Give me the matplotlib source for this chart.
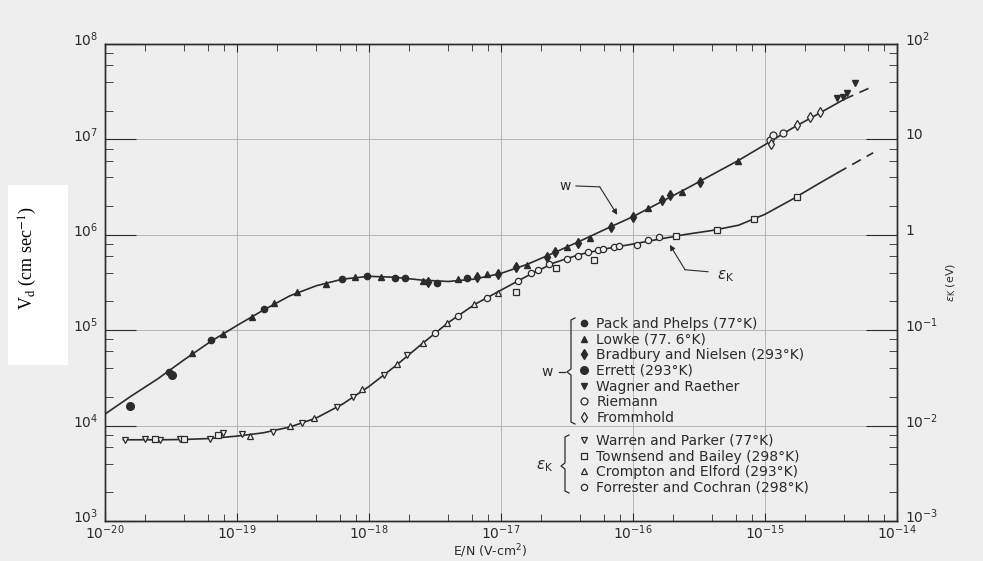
import numpy as np
import matplotlib
matplotlib.use("Agg")
import matplotlib.pyplot as plt
import matplotlib.transforms as mtransforms
from matplotlib.ticker import LogLocator, NullFormatter, FixedLocator, FixedFormatter
from matplotlib.patches import Rectangle

# ---- data ----
# drift velocity w (cm/s) vs E/N (V cm^2)
pack_en = [3.05e-20, 6.35e-20, 1.6e-19, 6.3e-19, 9.7e-19, 1.58e-18, 1.86e-18, 3.27e-18, 5.5e-18]
pack_w = [3.67e4, 7.8e4, 1.68e5, 3.47e5, 3.72e5, 3.55e5, 3.55e5, 3.14e5, 3.55e5]

lowke_en = [4.57e-20, 7.8e-20, 1.3e-19, 1.9e-19, 2.85e-19, 4.7e-19, 7.8e-19, 1.23e-18, 2.57e-18,
            4.7e-18, 7.9e-18, 1.58e-17, 3.16e-17, 4.7e-17, 1.3e-16, 2.34e-16, 6.3e-16]
lowke_w = [5.7e4, 9.2e4, 1.38e5, 1.95e5, 2.5e5, 3.07e5, 3.63e5, 3.63e5, 3.31e5,
           3.47e5, 3.9e5, 4.85e5, 7.4e5, 9.3e5, 1.9e6, 2.8e6, 5.96e6]

bradbury_en = [2.8e-18, 6.6e-18, 9.5e-18, 1.29e-17, 2.24e-17, 2.57e-17, 3.8e-17, 6.8e-17,
               1.0e-16, 1.66e-16, 1.9e-16, 3.24e-16]
bradbury_w = [3.22e5, 3.63e5, 3.9e5, 4.62e5, 5.9e5, 6.6e5, 8.3e5, 1.2e6,
              1.55e6, 2.3e6, 2.63e6, 3.6e6]

errett_en = [1.55e-20, 3.2e-20]
errett_w = [1.62e4, 3.42e4]

wagner_en = [3.5e-15, 3.9e-15, 4.2e-15, 4.8e-15]
wagner_w = [2.72e7, 2.8e7, 3.1e7, 3.9e7]

riemann_en = [1.1e-15, 1.15e-15, 1.38e-15]
riemann_w = [9.9e6, 1.1e7, 1.17e7]

frommhold_en = [1.12e-15, 1.74e-15, 2.2e-15, 2.63e-15]
frommhold_w = [8.9e6, 1.41e7, 1.72e7, 1.95e7]

# characteristic energy eps_K (eV) vs E/N
warren_en = [1.41e-20, 2.0e-20, 2.63e-20, 3.72e-20, 6.3e-20, 7.9e-20, 1.1e-19, 1.86e-19,
             3.1e-19, 5.75e-19, 7.6e-19, 1.29e-18, 1.95e-18]
warren_ek = [7.1e-3, 7.3e-3, 7.1e-3, 7.3e-3, 7.3e-3, 8.45e-3, 8.24e-3, 8.65e-3,
             1.07e-2, 1.58e-2, 2.0e-2, 3.39e-2, 5.5e-2]

townsend_en = [2.4e-20, 4.0e-20, 7.2e-20, 1.29e-17, 2.6e-17, 5.1e-17, 2.1e-16, 4.3e-16,
               8.3e-16, 1.74e-15]
townsend_ek = [7.2e-3, 7.2e-3, 8.0e-3, 0.25, 0.447, 0.55, 0.977, 1.12, 1.48, 2.51]

crompton_en = [1.26e-19, 2.5e-19, 3.8e-19, 8.9e-19, 1.62e-18, 2.57e-18, 3.9e-18, 6.2e-18, 9.5e-18]
crompton_ek = [7.85e-3, 9.8e-3, 1.2e-2, 2.4e-2, 4.37e-2, 7.4e-2, 0.12, 0.19, 0.245]

forrester_en = [3.16e-18, 4.7e-18, 7.8e-18, 1.35e-17, 1.7e-17, 1.9e-17, 2.3e-17, 3.16e-17,
                3.8e-17, 4.6e-17, 5.4e-17, 5.9e-17, 7.2e-17, 7.9e-17, 1.07e-16, 1.29e-16, 1.58e-16]
forrester_ek = [0.093, 0.141, 0.219, 0.324, 0.398, 0.427, 0.49, 0.56,
                0.60, 0.66, 0.69, 0.71, 0.74, 0.77, 0.785, 0.89, 0.955]

# smooth curves drawn through the data
w_curve_en = [1e-20, 1.58e-20, 2.51e-20, 3.98e-20, 6.31e-20, 1e-19, 1.58e-19, 2.51e-19, 3.98e-19,
              6.31e-19, 1e-18, 1.58e-18, 2.51e-18, 3.98e-18, 6.31e-18, 1e-17, 1.58e-17, 2.51e-17,
              3.98e-17, 6.31e-17, 1e-16, 1.58e-16, 2.51e-16, 3.98e-16, 6.31e-16, 1e-15, 1.58e-15,
              2.51e-15, 3.98e-15]
w_curve = [1.32e4, 2.04e4, 3.09e4, 4.9e4, 7.6e4, 1.12e5, 1.62e5, 2.29e5, 2.92e5,
           3.43e5, 3.67e5, 3.59e5, 3.35e5, 3.24e5, 3.43e5, 3.94e5, 4.9e5, 6.46e5,
           8.6e5, 1.16e6, 1.55e6, 2.16e6, 3.02e6, 4.27e6, 6.03e6, 8.8e6, 1.29e7,
           1.84e7, 2.63e7]
w_dash_en = [3.98e-15, 6.6e-15]
w_dash = [2.63e7, 3.6e7]

ek_curve_en = [1.38e-20, 2.51e-20, 3.98e-20, 6.31e-20, 1e-19, 1.58e-19, 2.51e-19, 3.98e-19,
               6.31e-19, 1e-18, 1.58e-18, 2.51e-18, 3.98e-18, 6.31e-18, 1e-17, 1.58e-17,
               2.51e-17, 3.98e-17, 6.31e-17, 1e-16, 1.58e-16, 2.51e-16, 3.98e-16, 6.31e-16,
               1e-15, 1.58e-15, 2.51e-15, 3.55e-15]
ek_curve = [7.1e-3, 7.1e-3, 7.15e-3, 7.33e-3, 7.76e-3, 8.4e-3, 9.66e-3, 1.2e-2,
            1.68e-2, 2.57e-2, 4.2e-2, 7.16e-2, 0.12, 0.186, 0.263, 0.37,
            0.507, 0.624, 0.716, 0.80, 0.90, 1.01, 1.11, 1.26,
            1.64, 2.32, 3.39, 4.47]
ek_dash_en = [3.55e-15, 6.6e-15]
ek_dash = [4.47, 7.24]

x_ticks = [1e-20, 1e-19, 1e-18, 1e-17, 1e-16, 1e-15, 1e-14]
x_labels = ['$10^{-20}$', '$10^{-19}$', '$10^{-18}$', '$10^{-17}$', '$10^{-16}$', '$10^{-15}$',
            '$10^{-14}$']
left_ticks = [1e3, 1e4, 1e5, 1e6, 1e7, 1e8]
left_labels = ['$10^{3}$', '$10^{4}$', '$10^{5}$', '$10^{6}$', '$10^{7}$', '$10^{8}$']
right_ticks = [1e-3, 1e-2, 1e-1, 1, 10, 100]
right_labels = ['$10^{-3}$', '$10^{-2}$', '$10^{-1}$', '1', '10', '$10^{2}$']

# ---- figure ----
ink = '#2b2b2b'
bg = '#eeeeee'
fig = plt.figure(figsize=(9.83, 5.61), dpi=100, facecolor=bg)
ax = fig.add_axes([0.1068, 0.0713, 0.8057, 0.8503], facecolor=bg)
ax2 = ax.twinx()

ax.set_xscale('log')
ax.set_yscale('log')
ax2.set_yscale('log')
ax.set_xlim(1e-20, 1e-14)
ax.set_ylim(1e3, 1e8)
ax2.set_ylim(1e-3, 1e2)

ax.grid(True, which='major', color='#b5b5b5', lw=0.7)

ax.plot(w_curve_en, w_curve, color=ink, lw=1.2, zorder=2)
ax.plot(w_dash_en, w_dash, color=ink, lw=1.2, ls=(0, (6, 4)), zorder=2)
ax2.plot(ek_curve_en, ek_curve, color=ink, lw=1.2, zorder=2)
ax2.plot(ek_dash_en, ek_dash, color=ink, lw=1.2, ls=(0, (6, 4)), zorder=2)

filled = dict(ls='none', color=ink, mec=ink, zorder=3)
hollow = dict(ls='none', mfc=bg, mec=ink, mew=0.9, zorder=3)

h = []
h += ax.plot(pack_en, pack_w, 'o', ms=4.5, label='Pack and Phelps (77°K)', **filled)
h += ax.plot(lowke_en, lowke_w, '^', ms=4.5, label='Lowke (77. 6°K)', **filled)
h += ax.plot(bradbury_en, bradbury_w, 'd', ms=5, label='Bradbury and Nielsen (293°K)', **filled)
h += ax.plot(errett_en, errett_w, 'o', ms=5.5, label='Errett (293°K)', **filled)
h += ax.plot(wagner_en, wagner_w, 'v', ms=5, label='Wagner and Raether', **filled)
h += ax.plot(riemann_en, riemann_w, 'o', ms=5, label='Riemann', **hollow)
h += ax.plot(frommhold_en, frommhold_w, 'd', ms=5.5, label='Frommhold', **hollow)

g = []
g += ax2.plot(warren_en, warren_ek, 'v', ms=4.5, label='Warren and Parker (77°K)', **hollow)
g += ax2.plot(townsend_en, townsend_ek, 's', ms=4.5, label='Townsend and Bailey (298°K)', **hollow)
g += ax2.plot(crompton_en, crompton_ek, '^', ms=4.5, label='Crompton and Elford (293°K)', **hollow)
g += ax2.plot(forrester_en, forrester_ek, 'o', ms=4.5, label='Forrester and Cochran (298°K)', **hollow)

leg_kw = dict(loc='upper left', frameon=False, fontsize=10, handlelength=1.0,
              handletextpad=0.4, labelspacing=0.12, borderpad=0, borderaxespad=0,
              labelcolor=ink)
leg1 = ax2.legend(handles=h, bbox_to_anchor=(0.596, 0.4277), **leg_kw)
ax2.add_artist(leg1)
ax2.legend(handles=g, bbox_to_anchor=(0.596, 0.1824), **leg_kw)

# braces next to the legend groups
ax2.plot([0.5934, 0.5884, 0.5884, 0.5833, 0.5884, 0.5884, 0.5934],
         [0.4256, 0.4214, 0.3187, 0.3124, 0.3061, 0.2075, 0.2034],
         transform=ax2.transAxes, color=ink, lw=0.9, clip_on=False)
ax2.plot([0.5732, 0.5808], [0.3124, 0.3124], transform=ax2.transAxes, color=ink, lw=0.9)
ax2.text(0.5581, 0.3124, 'w', transform=ax2.transAxes, ha='center', va='center',
         fontsize=10, color=ink)
ax2.plot([0.5859, 0.5808, 0.5808, 0.5758, 0.5808, 0.5808, 0.5859],
         [0.1803, 0.1761, 0.1216, 0.1153, 0.1090, 0.0629, 0.0587],
         transform=ax2.transAxes, color=ink, lw=0.9)
ax2.text(0.5556, 0.1153, r'$\varepsilon_{\rm K}$', transform=ax2.transAxes, ha='center',
         va='center', fontsize=11, color=ink)

# curve labels with leader arrows
ax.text(3.05e-17, 3.26e6, 'w', ha='center', va='center', fontsize=10, color=ink)
ax.plot([3.7e-17, 5.6e-17], [3.25e6, 3.18e6], color=ink, lw=0.8)
ax.annotate('', xy=(7.6e-17, 1.62e6), xytext=(5.6e-17, 3.18e6),
            arrowprops=dict(arrowstyle='-|>', color=ink, lw=0.8, mutation_scale=8,
                            shrinkA=0, shrinkB=0))
ax.text(4.3e-16, 3.7e5, r'$\varepsilon_{\rm K}$', ha='left', va='center', fontsize=11,
        color=ink)
ax.plot([3.7e-16, 2.48e-16], [4.1e5, 4.3e5], color=ink, lw=0.8)
ax.annotate('', xy=(1.9e-16, 7.85e5), xytext=(2.48e-16, 4.3e5),
            arrowprops=dict(arrowstyle='-|>', color=ink, lw=0.8, mutation_scale=8,
                            shrinkA=0, shrinkB=0))

# ticks
ax.xaxis.set_major_locator(FixedLocator(x_ticks))
ax.xaxis.set_major_formatter(FixedFormatter(x_labels))
ax.xaxis.set_minor_locator(LogLocator(base=10, subs=(2, 4, 6, 8), numticks=20))
ax.xaxis.set_minor_formatter(NullFormatter())
ax.yaxis.set_major_locator(FixedLocator(left_ticks))
ax.yaxis.set_major_formatter(FixedFormatter(left_labels))
ax.yaxis.set_minor_locator(LogLocator(base=10, subs=(2, 4, 6, 8), numticks=20))
ax.yaxis.set_minor_formatter(NullFormatter())
ax.tick_params(axis='x', which='both', direction='in', top=True, colors=ink,
               labelsize=10, pad=2)
ax.tick_params(axis='x', which='major', length=6)
ax.tick_params(axis='x', which='minor', length=5)
ax.tick_params(axis='y', which='both', direction='in', right=False, colors=ink,
               labelsize=10, pad=5)
ax.tick_params(axis='y', which='major', length=22)
ax.tick_params(axis='y', which='minor', length=6)

ax2.yaxis.set_major_locator(FixedLocator(right_ticks))
ax2.yaxis.set_major_formatter(FixedFormatter(right_labels))
ax2.yaxis.set_minor_locator(LogLocator(base=10, subs=(2, 4, 6, 8), numticks=20))
ax2.yaxis.set_minor_formatter(NullFormatter())
ax2.tick_params(axis='y', which='both', direction='in', colors=ink, labelsize=10, pad=6)
ax2.tick_params(axis='y', which='major', length=22)
ax2.tick_params(axis='y', which='minor', length=6)

# left/right value labels sit a little above their ticks in the original
lift = mtransforms.ScaledTranslation(0, 4 / 72, fig.dpi_scale_trans)
for lab in ax.get_yticklabels() + ax2.get_yticklabels():
    lab.set_transform(lab.get_transform() + lift)

for a in (ax, ax2):
    for s in a.spines.values():
        s.set_color(ink)
        s.set_linewidth(1.0)

ax.set_xlabel('E/N (V-cm$^{2}$)', fontsize=9, color=ink)
ax.xaxis.set_label_coords(0.486, -0.044)
ax2.set_ylabel(r'$\varepsilon_{\rm K}$ (eV)', fontsize=8, color=ink, labelpad=4)

# pasted-on left axis label on a white patch
fig.patches.append(Rectangle((8 / 983, 1 - 365 / 561), 60 / 983, 180 / 561,
                             transform=fig.transFigure, facecolor='white',
                             edgecolor='none', zorder=0))
fig.text(28 / 983, 1 - 258 / 561, r'V$_{\rm d}$ (cm sec$^{-1}$)', rotation=90,
         ha='center', va='center', fontsize=13, family='Liberation Serif',
         math_fontfamily='stix', color='black')

fig.savefig('out.png', dpi=100, facecolor=bg)
